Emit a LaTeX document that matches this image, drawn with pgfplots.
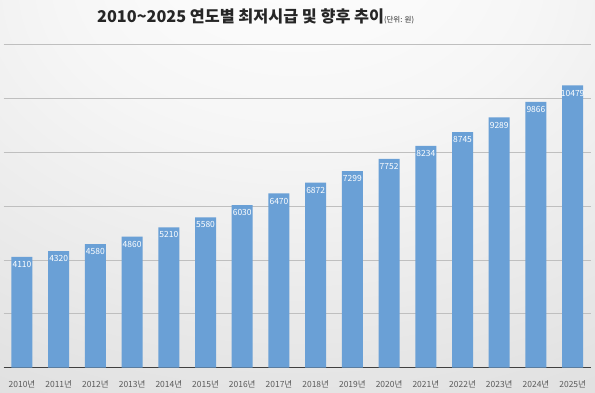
\documentclass[border=0pt]{standalone}
\usepackage{pgfplots}
\pgfplotsset{compat=1.18}
\usepackage{fontspec}
\setmainfont{Noto Sans CJK KR}
\definecolor{barblue}{RGB}{106,160,214}
\definecolor{ticktext}{RGB}{89,89,89}
\pgfdeclareradialshading{bgshade}{\pgfpoint{0bp}{35bp}}{rgb(0bp)=(1,1,1); rgb(20bp)=(0.965,0.965,0.965); rgb(60bp)=(0.85,0.85,0.85); rgb(100bp)=(0.80,0.80,0.80)}
\begin{document}
\begin{tikzpicture}[x=1bp,y=1bp]
\shade[shading=bgshade] (0,0) rectangle (595,392);
\begin{axis}[
  at={(3.6bp,24.5bp)}, anchor=south west,
  scale only axis, width=587.4bp, height=323bp,
  ymin=0, ymax=12000, xmin=-0.5, xmax=15.5,
  ybar, bar width=21bp,
  axis lines*=left,
  y axis line style={draw=none},
  x axis line style={draw=black!75, line width=1pt},
  ytick={0,2000,4000,6000,8000,10000,12000},
  yticklabels={}, scaled y ticks=false,
  ytick style={draw=none}, xtick style={draw=none},
  ymajorgrids, major grid style={draw=black!25, line width=0.6pt},
  xtick=data,
  xticklabels={2010년,2011년,2012년,2013년,2014년,2015년,2016년,2017년,2018년,2019년,2020년,2021년,2022년,2023년,2024년,2025년},
  xticklabel style={font=\fontsize{8.5}{10}\selectfont, text=ticktext, yshift=-5bp},
  nodes near coords,
  /pgf/number format/1000 sep={},
  /pgf/number format/assume math mode=true,
  every node near coord/.append style={anchor=north, font=\fontsize{8.5}{10}\selectfont, text=white, yshift=-1bp},
  clip=false,
]
\addplot[fill=barblue, draw=none] coordinates {
(0,4110) (1,4320) (2,4580) (3,4860) (4,5210) (5,5580) (6,6030) (7,6470)
(8,6872) (9,7299) (10,7752) (11,8234) (12,8745) (13,9289) (14,9866) (15,10479)};
\end{axis}
\node[anchor=base west, inner sep=0, text=black!85] at (97,370) {\bfseries\fontsize{16.3}{18}\selectfont 2010\textasciitilde2025 연도별 최저시급 및 향후 추이{\mdseries\fontsize{7.5}{8}\selectfont(단위: 원)}};
\pgfresetboundingbox
\path (0,0) rectangle (595,392);
\end{tikzpicture}
\end{document}
